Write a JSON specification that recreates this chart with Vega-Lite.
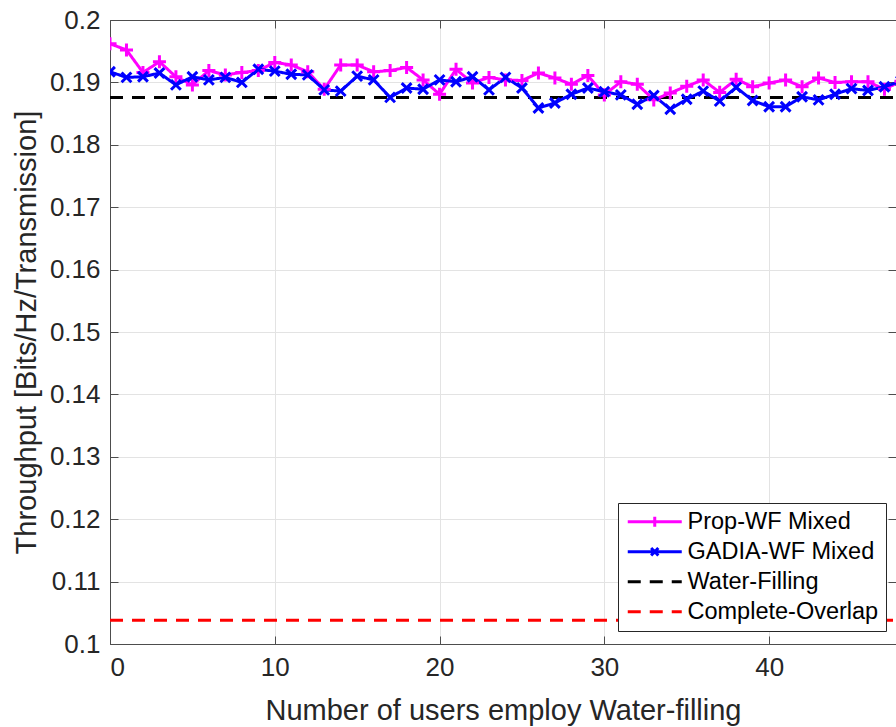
{
  "$schema": "https://vega.github.io/schema/vega-lite/v6.json",
  "width": 786,
  "height": 624,
  "autosize": {"type": "none"},
  "padding": {"left": 110, "top": 20, "right": 0, "bottom": 83},
  "background": "white",
  "datasets": {
    "curves": [
      {"n":0,"s":"Prop-WF Mixed","v":0.1962},{"n":1,"s":"Prop-WF Mixed","v":0.1952},{"n":2,"s":"Prop-WF Mixed","v":0.1916},{"n":3,"s":"Prop-WF Mixed","v":0.1933},{"n":4,"s":"Prop-WF Mixed","v":0.1909},{"n":5,"s":"Prop-WF Mixed","v":0.1896},{"n":6,"s":"Prop-WF Mixed","v":0.1919},{"n":7,"s":"Prop-WF Mixed","v":0.1912},{"n":8,"s":"Prop-WF Mixed","v":0.1916},{"n":9,"s":"Prop-WF Mixed","v":0.1919},
      {"n":10,"s":"Prop-WF Mixed","v":0.1932},{"n":11,"s":"Prop-WF Mixed","v":0.1928},{"n":12,"s":"Prop-WF Mixed","v":0.1917},{"n":13,"s":"Prop-WF Mixed","v":0.1889},{"n":14,"s":"Prop-WF Mixed","v":0.1928},{"n":15,"s":"Prop-WF Mixed","v":0.1928},{"n":16,"s":"Prop-WF Mixed","v":0.1917},{"n":17,"s":"Prop-WF Mixed","v":0.1919},{"n":18,"s":"Prop-WF Mixed","v":0.1924},{"n":19,"s":"Prop-WF Mixed","v":0.1904},
      {"n":20,"s":"Prop-WF Mixed","v":0.1881},{"n":21,"s":"Prop-WF Mixed","v":0.1921},{"n":22,"s":"Prop-WF Mixed","v":0.1899},{"n":23,"s":"Prop-WF Mixed","v":0.1908},{"n":24,"s":"Prop-WF Mixed","v":0.1904},{"n":25,"s":"Prop-WF Mixed","v":0.1903},{"n":26,"s":"Prop-WF Mixed","v":0.1915},{"n":27,"s":"Prop-WF Mixed","v":0.1907},{"n":28,"s":"Prop-WF Mixed","v":0.1897},{"n":29,"s":"Prop-WF Mixed","v":0.1911},
      {"n":30,"s":"Prop-WF Mixed","v":0.1880},{"n":31,"s":"Prop-WF Mixed","v":0.1901},{"n":32,"s":"Prop-WF Mixed","v":0.1897},{"n":33,"s":"Prop-WF Mixed","v":0.1872},{"n":34,"s":"Prop-WF Mixed","v":0.1883},{"n":35,"s":"Prop-WF Mixed","v":0.1894},{"n":36,"s":"Prop-WF Mixed","v":0.1904},{"n":37,"s":"Prop-WF Mixed","v":0.1884},{"n":38,"s":"Prop-WF Mixed","v":0.1905},{"n":39,"s":"Prop-WF Mixed","v":0.1893},
      {"n":40,"s":"Prop-WF Mixed","v":0.1899},{"n":41,"s":"Prop-WF Mixed","v":0.1904},{"n":42,"s":"Prop-WF Mixed","v":0.1893},{"n":43,"s":"Prop-WF Mixed","v":0.1907},{"n":44,"s":"Prop-WF Mixed","v":0.1900},{"n":45,"s":"Prop-WF Mixed","v":0.1901},{"n":46,"s":"Prop-WF Mixed","v":0.1901},{"n":47,"s":"Prop-WF Mixed","v":0.1889},{"n":48,"s":"Prop-WF Mixed","v":0.1902},
      {"n":0,"s":"GADIA-WF Mixed","v":0.1917},{"n":1,"s":"GADIA-WF Mixed","v":0.1908},{"n":2,"s":"GADIA-WF Mixed","v":0.1909},{"n":3,"s":"GADIA-WF Mixed","v":0.1915},{"n":4,"s":"GADIA-WF Mixed","v":0.1896},{"n":5,"s":"GADIA-WF Mixed","v":0.1909},{"n":6,"s":"GADIA-WF Mixed","v":0.1904},{"n":7,"s":"GADIA-WF Mixed","v":0.1908},{"n":8,"s":"GADIA-WF Mixed","v":0.1900},{"n":9,"s":"GADIA-WF Mixed","v":0.1921},
      {"n":10,"s":"GADIA-WF Mixed","v":0.1918},{"n":11,"s":"GADIA-WF Mixed","v":0.1913},{"n":12,"s":"GADIA-WF Mixed","v":0.1912},{"n":13,"s":"GADIA-WF Mixed","v":0.1888},{"n":14,"s":"GADIA-WF Mixed","v":0.1886},{"n":15,"s":"GADIA-WF Mixed","v":0.1910},{"n":16,"s":"GADIA-WF Mixed","v":0.1904},{"n":17,"s":"GADIA-WF Mixed","v":0.1876},{"n":18,"s":"GADIA-WF Mixed","v":0.1891},{"n":19,"s":"GADIA-WF Mixed","v":0.1889},
      {"n":20,"s":"GADIA-WF Mixed","v":0.1904},{"n":21,"s":"GADIA-WF Mixed","v":0.1901},{"n":22,"s":"GADIA-WF Mixed","v":0.1909},{"n":23,"s":"GADIA-WF Mixed","v":0.1888},{"n":24,"s":"GADIA-WF Mixed","v":0.1908},{"n":25,"s":"GADIA-WF Mixed","v":0.1891},{"n":26,"s":"GADIA-WF Mixed","v":0.1859},{"n":27,"s":"GADIA-WF Mixed","v":0.1867},{"n":28,"s":"GADIA-WF Mixed","v":0.1881},{"n":29,"s":"GADIA-WF Mixed","v":0.1891},
      {"n":30,"s":"GADIA-WF Mixed","v":0.1885},{"n":31,"s":"GADIA-WF Mixed","v":0.1880},{"n":32,"s":"GADIA-WF Mixed","v":0.1865},{"n":33,"s":"GADIA-WF Mixed","v":0.1879},{"n":34,"s":"GADIA-WF Mixed","v":0.1857},{"n":35,"s":"GADIA-WF Mixed","v":0.1873},{"n":36,"s":"GADIA-WF Mixed","v":0.1886},{"n":37,"s":"GADIA-WF Mixed","v":0.1870},{"n":38,"s":"GADIA-WF Mixed","v":0.1892},{"n":39,"s":"GADIA-WF Mixed","v":0.1871},
      {"n":40,"s":"GADIA-WF Mixed","v":0.1861},{"n":41,"s":"GADIA-WF Mixed","v":0.1861},{"n":42,"s":"GADIA-WF Mixed","v":0.1877},{"n":43,"s":"GADIA-WF Mixed","v":0.1872},{"n":44,"s":"GADIA-WF Mixed","v":0.1881},{"n":45,"s":"GADIA-WF Mixed","v":0.1890},{"n":46,"s":"GADIA-WF Mixed","v":0.1887},{"n":47,"s":"GADIA-WF Mixed","v":0.1893},{"n":48,"s":"GADIA-WF Mixed","v":0.1902}
    ],
    "refs": [
      {"n":0,"s":"Water-Filling","v":0.1876},{"n":48,"s":"Water-Filling","v":0.1876},
      {"n":0,"s":"Complete-Overlap","v":0.1038},{"n":48,"s":"Complete-Overlap","v":0.1038}
    ]
  },
  "layer": [
    {
      "data": {"name": "refs"},
      "mark": {"type": "line", "strokeWidth": 3, "clip": true},
      "encoding": {
        "x": {"field": "n", "type": "quantitative",
              "scale": {"domain": [0, 47.7], "nice": false, "zero": false},
              "axis": {"orient": "bottom", "values": [0,10,20,30,40], "grid": true, "title": "Number of users employ Water-filling", "labelPadding": 18, "titlePadding": 16}},
        "y": {"field": "v", "type": "quantitative",
              "scale": {"domain": [0.1, 0.2], "nice": false, "zero": false},
              "axis": {"orient": "left", "values": [0.1,0.11,0.12,0.13,0.14,0.15,0.16,0.17,0.18,0.19,0.2], "format": ".2~f", "grid": true, "title": "Throughput [Bits/Hz/Transmission]", "labelPadding": 18, "titlePadding": 8}},
        "color": {"field": "s", "type": "nominal",
                  "scale": {"domain": ["Prop-WF Mixed","GADIA-WF Mixed","Water-Filling","Complete-Overlap"], "range": ["#FF00FF","#0000FF","#000000","#FF0000"]},
                  "legend": {
                    "title": null, "orient": "none", "legendX": 508, "legendY": 483,
                    "symbolType": "M-1,0H5", "symbolSize": 324, "symbolStrokeWidth": 3,
                    "labelFontSize": 23.5, "labelColor": "#000000", "labelOffset": 39, "labelLimit": 0, "rowPadding": 5,
                    "padding": 7, "strokeColor": "#262626", "fillColor": "white", "cornerRadius": 0,
                    "encode": {"symbols": {"update": {"shape": {"signal": "datum.value === 'Prop-WF Mixed' ? 'M-1,0H5M2,-0.55V0.55' : datum.value === 'GADIA-WF Mixed' ? 'M-1,0H5M1.6,-0.42L2.4,0.42M1.6,0.42L2.4,-0.42' : 'M-1,0H5'"}, "fill": {"value": "transparent"}}}}
                  }},
        "strokeDash": {"field": "s", "type": "nominal",
                  "scale": {"domain": ["Prop-WF Mixed","GADIA-WF Mixed","Water-Filling","Complete-Overlap"], "range": [[1,0],[1,0],[13,9],[13,9]]}}
      }
    },
    {
      "data": {"name": "curves"},
      "mark": {"type": "line", "strokeWidth": 3, "clip": true},
      "encoding": {
        "x": {"field": "n", "type": "quantitative", "axis": null},
        "y": {"field": "v", "type": "quantitative", "axis": null},
        "color": {"field": "s", "type": "nominal"},
        "strokeDash": {"field": "s", "type": "nominal"}
      }
    },
    {
      "data": {"name": "curves"},
      "mark": {"type": "point", "filled": false, "strokeWidth": 3, "size": 170, "opacity": 1, "clip": true},
      "encoding": {
        "x": {"field": "n", "type": "quantitative",
              "axis": {"orient": "top", "values": [0,10,20,30,40], "labels": false, "grid": false, "title": null}},
        "y": {"field": "v", "type": "quantitative",
              "axis": {"orient": "right", "values": [0.1,0.11,0.12,0.13,0.14,0.15,0.16,0.17,0.18,0.19,0.2], "labels": false, "grid": false, "title": null}},
        "color": {"field": "s", "type": "nominal"},
        "shape": {"field": "s", "type": "nominal",
                  "scale": {"domain": ["Prop-WF Mixed","GADIA-WF Mixed"], "range": ["M-1,0H1M0,-1V1", "M-0.75,-0.75L0.75,0.75M-0.75,0.75L0.75,-0.75"]},
                  "legend": null}
      }
    }
  ],
  "resolve": {"axis": {"x": "independent", "y": "independent"}},
  "config": {
    "font": "Liberation Sans",
    "view": {"stroke": "#4d4d4d", "strokeWidth": 1},
    "axis": {
      "domainColor": "#4d4d4d", "domainWidth": 1,
      "tickColor": "#4d4d4d", "tickSize": -8, "tickWidth": 1,
      "labelFont": "Liberation Sans", "labelFontSize": 26, "labelColor": "#262626",
      "titleFont": "Liberation Sans", "titleFontSize": 29, "titleFontWeight": "normal", "titleColor": "#262626",
      "gridColor": "#e3e3e3", "gridWidth": 1
    },
    "legend": {"labelFont": "Liberation Sans"}
  }
}
